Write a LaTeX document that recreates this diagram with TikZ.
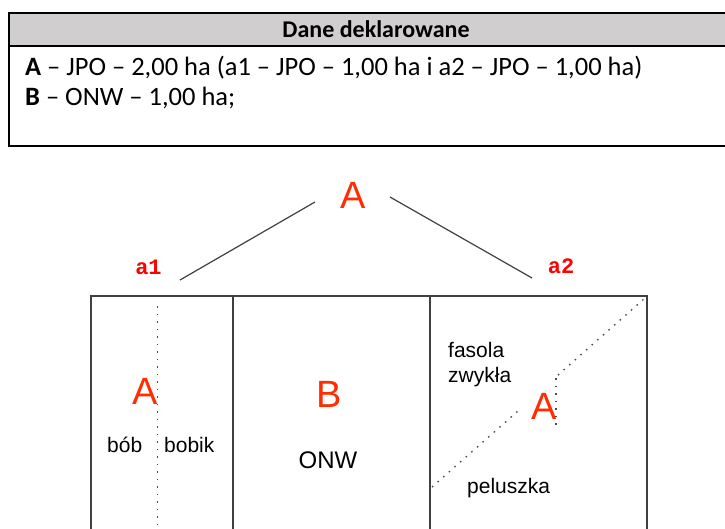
\documentclass[tikz,border=0pt]{standalone}
\usepackage{fontspec}
\setmainfont{Carlito}
\newfontfamily\arialfont{Liberation Sans}
\newfontfamily\courfont{Liberation Mono}
\usepackage{xcolor}
\usepackage{tikz}
\usetikzlibrary{positioning}
\definecolor{cropred}{RGB}{255,45,0}
\definecolor{headgray}{RGB}{208,206,206}

\begin{document}
\begin{tikzpicture}[
    x=1pt, y=-1pt,
    head/.style = {font=\bfseries\fontsize{24}{28}\selectfont, anchor=base, inner sep=0pt},
    row/.style = {font=\fontsize{26.5}{30}\selectfont, anchor=base west, inner sep=0pt},
    big/.style = {font=\arialfont\fontsize{38}{40}\selectfont, text=cropred, anchor=base, inner sep=0pt},
    crop/.style = {font=\arialfont\fontsize{21}{24}\selectfont, anchor=base west, inner sep=0pt},
    part/.style = {font=\courfont\bfseries\fontsize{22}{24}\selectfont, text=red, anchor=base, inner sep=0pt},
    field/.style = {draw=black!75, line width=1.5pt},
    seam/.style = {draw=black!70, line width=1.4pt, dash pattern=on 1.5pt off 6pt},
    branch/.style = {draw=black!75, line width=1.2pt}
]
    \useasboundingbox (0,0) rectangle (725,529);

    % Table
    \fill [headgray] (9,13) rectangle (730,46);
    \draw [line width=2pt] (730,13) -- (9,13) -- (9,146) -- (730,146);
    \draw [line width=2pt] (9,46) -- (730,46);
    \node [head] (title) at (376,38) {Dane deklarowane};
    \node [row] (rowa) at (25,76) {\textbf{A} – JPO – 2,00 ha (a1 – JPO – 1,00 ha i a2 – JPO – 1,00 ha)};
    \node [row] (rowb) at (25,106) {\textbf{B} – ONW – 1,00 ha;};

    % Parcel A and its parts
    \node [big] (parcel) at (353.5,209) {A};
    \node [part] (partone) at (148.5,275) {a1};
    \node [part] (parttwo) at (561,273) {a2};
    \coordinate (lefta) at (315,202);
    \coordinate (leftb) at (180,280);
    \coordinate (righta) at (390,197);
    \coordinate (rightb) at (532,278);
    \draw [branch] (lefta) -- (leftb);
    \draw [branch] (righta) -- (rightb);

    % Fields
    \draw [field] (91,535) -- (91,296) -- (647,296) -- (647,535);
    \draw [field] (233,296) -- (233,535);
    \draw [field] (430,296) -- (430,535);

    % Column 1
    \node [big] (cola) at (145.5,404) {A};
    \node [crop] (bob) at (107,452) {bób};
    \node [crop] (bobik) at (164,452.5) {bobik};
    \coordinate (seamtop) at (157.5,306);
    \coordinate (seambot) at (157.5,529);
    \draw [seam] (seamtop) -- (seambot);

    % Column 2
    \node [big] (colb) at (329,407) {B};
    \node [crop, anchor=base, font=\arialfont\fontsize{24}{26}\selectfont] (onw) at (328,468) {ONW};

    % Column 3
    \node [big] (colc) at (544,419) {A};
    \node [crop] (fasola) at (448,357) {fasola};
    \node [crop] (zwykla) at (448,382) {zwykła};
    \node [crop] (peluszka) at (467,493) {peluszka};
    \coordinate (diaga) at (432,487);
    \coordinate (diagb) at (518,411);
    \coordinate (diagc) at (558,375);
    \coordinate (diagd) at (645,298);
    \coordinate (stepa) at (556,378);
    \coordinate (stepb) at (556,428);
    \draw [seam] (diaga) -- (diagb);
    \draw [seam] (diagc) -- (diagd);
    \draw [seam] (stepa) -- (stepb);
\end{tikzpicture}
\end{document}
